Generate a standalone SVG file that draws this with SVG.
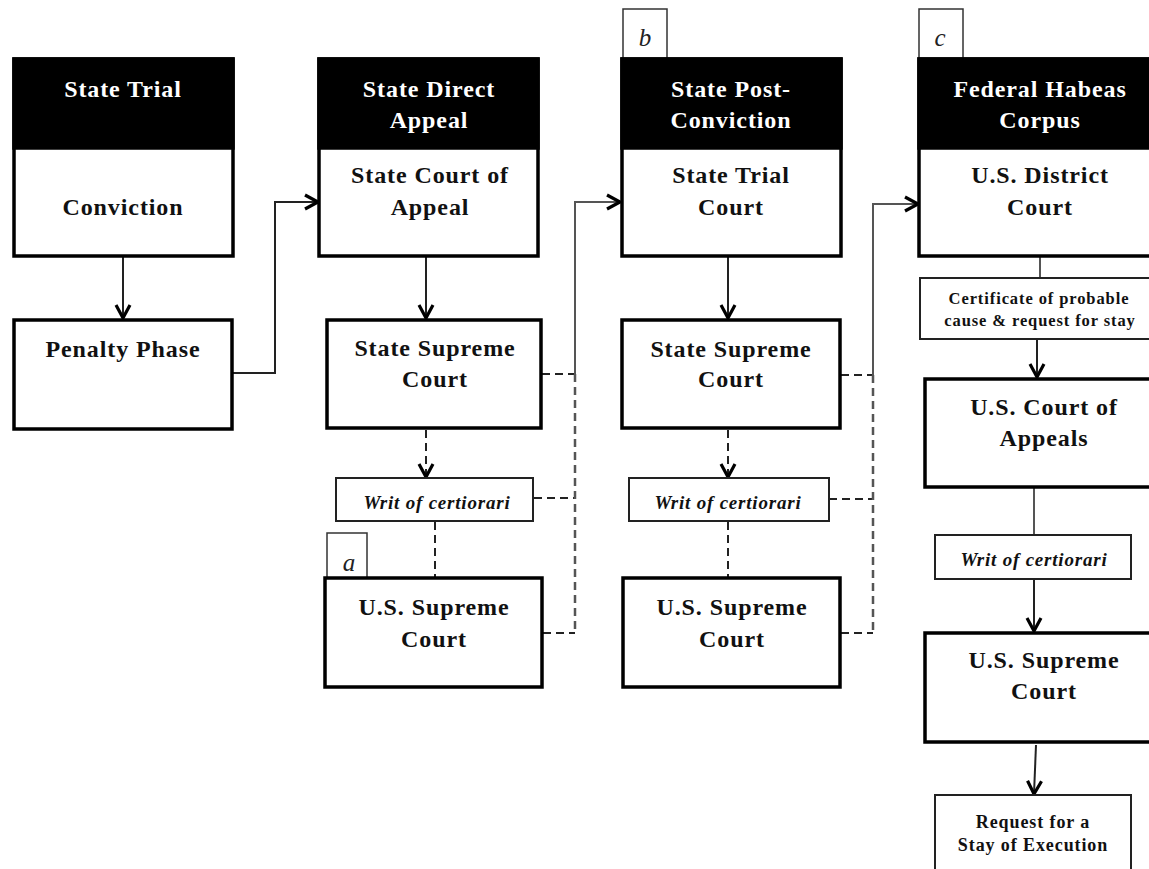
<svg xmlns="http://www.w3.org/2000/svg" width="1149" height="869" viewBox="0 0 1149 869">
<defs>
<style>
.box{fill:#fff;stroke:#000;stroke-width:3.5}
.hdr{fill:#000;stroke:#000;stroke-width:3.5}
.sm{fill:#fff;stroke:#222;stroke-width:2}
.tag{fill:#fff;stroke:#333;stroke-width:1.5}
.t{font-family:"Liberation Serif","Times New Roman",serif;font-weight:bold;font-size:24px;letter-spacing:0.9px;text-anchor:middle;fill:#111}
.w{fill:#fff}
.i{font-family:"Liberation Serif","Times New Roman",serif;font-weight:bold;font-style:italic;font-size:19px;letter-spacing:0.8px;text-anchor:middle;fill:#111}
.c{font-family:"Liberation Serif","Times New Roman",serif;font-weight:bold;font-size:16.5px;letter-spacing:0.9px;text-anchor:middle;fill:#111}
.r{font-size:18px}
.lt{font-family:"Liberation Serif","Times New Roman",serif;font-style:italic;font-size:25px;text-anchor:middle;fill:#222}
.ln{fill:none;stroke:#222;stroke-width:2}
.gl{fill:none;stroke:#555;stroke-width:2}
.d{fill:none;stroke:#222;stroke-width:2;stroke-dasharray:8 5}
.dg{fill:none;stroke:#555;stroke-width:2.5;stroke-dasharray:8 5}
</style>
<marker id="ah" viewBox="0 0 18 18" refX="16" refY="9" markerWidth="18" markerHeight="18" markerUnits="userSpaceOnUse" orient="auto">
<path d="M3,2 L16,9 L3,16" fill="none" stroke="#000" stroke-width="3.2"/>
</marker>
</defs>

<g id="connectors">
<path class="ln" d="M123,257 V318" marker-end="url(#ah)"/>
<path class="ln" d="M233,373 H275 V202 H318" marker-end="url(#ah)"/>
<path class="ln" d="M426,257 V318" marker-end="url(#ah)"/>
<path class="d" d="M426,430 V477" marker-end="url(#ah)"/>
<path class="d" d="M435,522 V577"/>
<path class="d" d="M542,374 H575"/>
<path class="d" d="M534,498 H575"/>
<path class="d" d="M543,633 H575"/>
<path class="dg" d="M575,374 V633"/>
<path class="gl" d="M575,374 V202 H620" marker-end="url(#ah)"/>
<path class="ln" d="M728,257 V318" marker-end="url(#ah)"/>
<path class="d" d="M728,430 V477" marker-end="url(#ah)"/>
<path class="d" d="M728,522 V577"/>
<path class="d" d="M841,375 H873"/>
<path class="d" d="M829,499 H873"/>
<path class="d" d="M841,633 H873"/>
<path class="dg" d="M873,375 V633"/>
<path class="gl" d="M873,375 V204 H918" marker-end="url(#ah)"/>
<path class="gl" d="M1040,257 V278"/>
<path class="ln" d="M1037,339 V377" marker-end="url(#ah)"/>
<path class="gl" d="M1034,488 V535"/>
<path class="ln" d="M1034,579 V631" marker-end="url(#ah)"/>
<path class="ln" d="M1036,745 L1034,794" marker-end="url(#ah)"/>
</g>

<g id="state-trial">
<rect class="box" x="14" y="59" width="219" height="197"/>
<rect class="hdr" x="14" y="59" width="219" height="89"/>
<text class="t w" x="123" y="97">State Trial</text>
<text class="t" x="123" y="215">Conviction</text>
</g>

<g id="penalty-phase">
<rect class="box" x="14" y="320" width="218" height="109"/>
<text class="t" x="123" y="357">Penalty Phase</text>
</g>

<g id="state-direct-appeal">
<rect class="box" x="319" y="59" width="219" height="197"/>
<rect class="hdr" x="319" y="59" width="219" height="89"/>
<text class="t w" x="429" y="97">State Direct</text>
<text class="t w" x="429" y="128">Appeal</text>
<text class="t" x="430" y="183">State Court of</text>
<text class="t" x="430" y="215">Appeal</text>
</g>

<g id="state-supreme-1">
<rect class="box" x="327" y="320" width="214" height="108"/>
<text class="t" x="435" y="356">State Supreme</text>
<text class="t" x="435" y="387">Court</text>
</g>

<g id="writ-1">
<rect class="sm" x="336" y="478" width="197" height="43"/>
<text class="i" x="437" y="509">Writ of certiorari</text>
</g>

<g id="tag-a">
<rect class="tag" x="327" y="533" width="40" height="45"/>
<text class="lt" x="349" y="571">a</text>
</g>

<g id="us-supreme-1">
<rect class="box" x="325" y="578" width="217" height="109"/>
<text class="t" x="434" y="615">U.S. Supreme</text>
<text class="t" x="434" y="647">Court</text>
</g>

<g id="tag-b">
<rect class="tag" x="623" y="9" width="44" height="50"/>
<text class="lt" x="645" y="46">b</text>
</g>

<g id="state-post-conviction">
<rect class="box" x="622" y="59" width="219" height="197"/>
<rect class="hdr" x="622" y="59" width="219" height="89"/>
<text class="t w" x="731" y="97">State Post-</text>
<text class="t w" x="731" y="128">Conviction</text>
<text class="t" x="731" y="183">State Trial</text>
<text class="t" x="731" y="215">Court</text>
</g>

<g id="state-supreme-2">
<rect class="box" x="622" y="320" width="218" height="108"/>
<text class="t" x="731" y="357">State Supreme</text>
<text class="t" x="731" y="387">Court</text>
</g>

<g id="writ-2">
<rect class="sm" x="629" y="478" width="200" height="43"/>
<text class="i" x="728" y="509">Writ of certiorari</text>
</g>

<g id="us-supreme-2">
<rect class="box" x="623" y="578" width="217" height="109"/>
<text class="t" x="732" y="615">U.S. Supreme</text>
<text class="t" x="732" y="647">Court</text>
</g>

<g id="tag-c">
<rect class="tag" x="919" y="9" width="44" height="50"/>
<text class="lt" x="940" y="46">c</text>
</g>

<g id="federal-habeas">
<rect class="box" x="919" y="59" width="245" height="197"/>
<rect class="hdr" x="919" y="59" width="245" height="89"/>
<text class="t w" x="1040" y="97">Federal Habeas</text>
<text class="t w" x="1040" y="128">Corpus</text>
<text class="t" x="1040" y="183">U.S. District</text>
<text class="t" x="1040" y="215">Court</text>
</g>

<g id="certificate">
<rect class="sm" x="920" y="278" width="240" height="61"/>
<text class="c" x="1039" y="304">Certificate of probable</text>
<text class="c" x="1040" y="326">cause &amp; request for stay</text>
</g>

<g id="us-court-of-appeals">
<rect class="box" x="925" y="379" width="240" height="108"/>
<text class="t" x="1044" y="415">U.S. Court of</text>
<text class="t" x="1044" y="446">Appeals</text>
</g>

<g id="writ-3">
<rect class="sm" x="935" y="535" width="196" height="44"/>
<text class="i" x="1034" y="566">Writ of certiorari</text>
</g>

<g id="us-supreme-3">
<rect class="box" x="925" y="633" width="240" height="109"/>
<text class="t" x="1044" y="668">U.S. Supreme</text>
<text class="t" x="1044" y="699">Court</text>
</g>

<g id="request-stay">
<rect class="sm" x="935" y="795" width="196" height="85"/>
<text class="c r" x="1033" y="828">Request for a</text>
<text class="c r" x="1033" y="851">Stay of Execution</text>
</g>
</svg>
